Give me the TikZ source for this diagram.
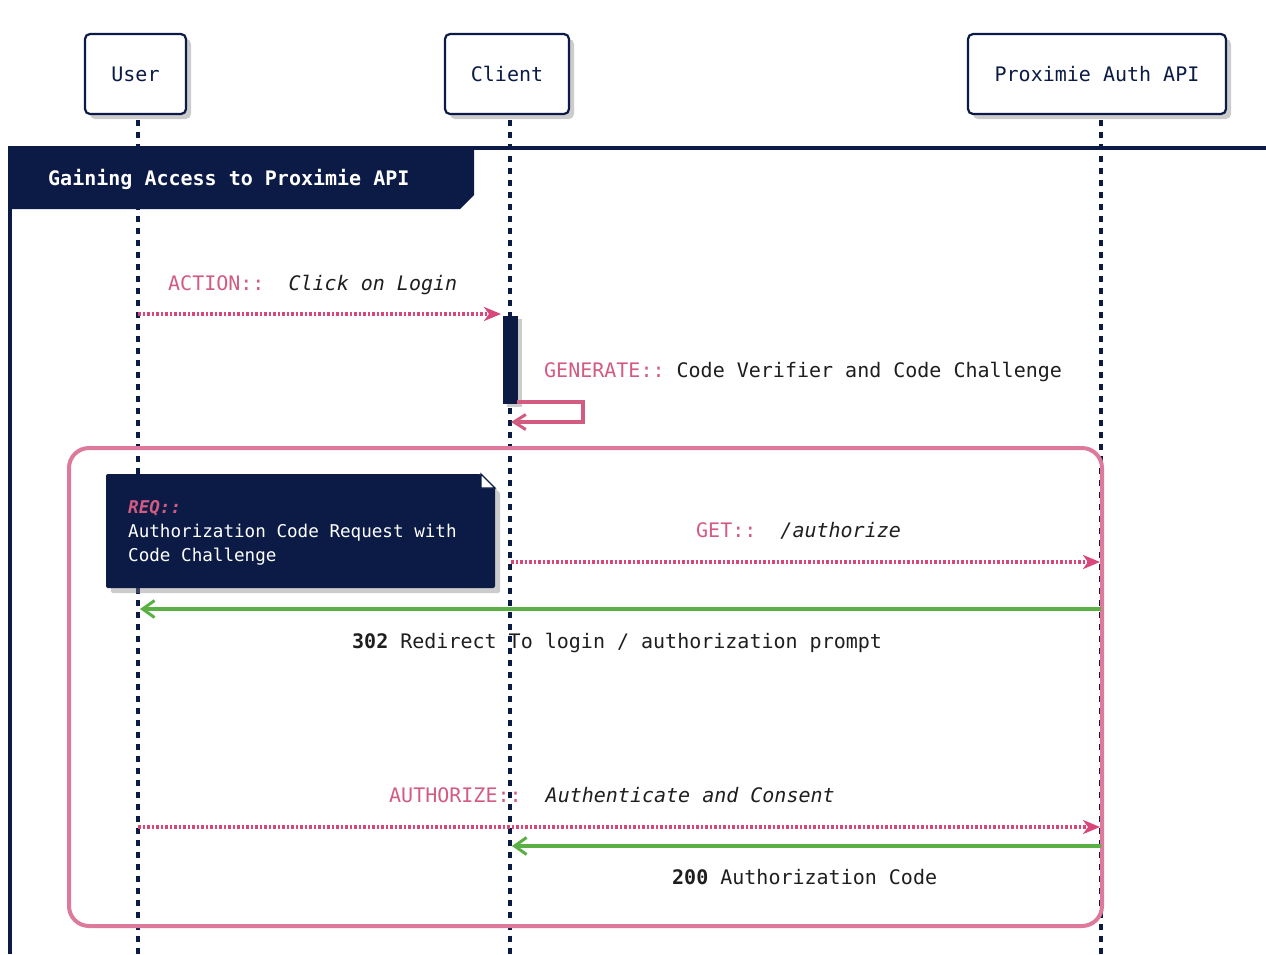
\documentclass[tikz,border=0pt]{standalone}
\usepackage{fontspec}
\setmonofont{DejaVu Sans Mono}
\usetikzlibrary{arrows.meta,shadows,calc}
\definecolor{navy}{HTML}{0B1B45}
\definecolor{pinkt}{HTML}{D35A80}
\definecolor{pinkd}{HTML}{D9467A}
\definecolor{pinkr}{HTML}{DD7A9C}
\definecolor{grn}{HTML}{5AAF45}
\definecolor{txt}{HTML}{1E1E1E}
\tikzset{
  actorbox/.style={draw=navy, line width=2.2pt, rounded corners=5pt, fill=white,
    drop shadow={opacity=0.4, shadow xshift=5pt, shadow yshift=-5pt},
    text=navy, inner sep=0pt},
  lifeline/.style={navy, line width=3.2pt, dash pattern=on 6pt off 6pt},
  reqline/.style={pinkd, line width=3.2pt, dash pattern=on 2.5pt off 2pt,
    -{Stealth[length=17pt,width=14pt,inset=5pt]}},
  respline/.style={grn, line width=3.6pt, -{Straight Barb[length=12pt,width=17pt,line width=3pt]}},
  selfline/.style={pinkt, line width=3.2pt, -{Straight Barb[length=12pt,width=15pt,line width=3pt]}},
  lbl/.style={anchor=base west, inner sep=0pt, text=txt},
}
\begin{document}
\begin{tikzpicture}[x=1pt,y=-1pt, font=\ttfamily\fontsize{20}{24}\selectfont]
\useasboundingbox (0,0) rectangle (1266,954);

% actors
\node[actorbox, minimum width=101pt, minimum height=80pt] (user) at (135.5,74) {User};
\node[actorbox, minimum width=124pt, minimum height=80pt] (client) at (507,74) {Client};
\node[actorbox, minimum width=258pt, minimum height=80pt] (auth) at (1097,74) {Proximie Auth API};

% lifeline ends
\coordinate (userend) at (138,954);
\coordinate (clientend) at (510,954);
\coordinate (authend) at (1101,954);
\draw[lifeline] (138,120) -- (userend);
\draw[lifeline] (510,120) -- (clientend);
\draw[lifeline] (1101,120) -- (authend);

% group frame
\draw[navy, line width=3.5pt] (10,954) -- (10,148) -- (1266,148);
\fill[navy, rounded corners=3pt] (8,209) -- (8,146) -- (474,146) [sharp corners] -- (474,195) -- (460,209) -- cycle;
\node[lbl, text=white, font=\ttfamily\bfseries\fontsize{20}{24}\selectfont] (title) at (48,185) {Gaining Access to Proximie API};

% action
\node[lbl] (action) at (168,290) {\textcolor{pinkt}{ACTION::}~~\textit{Click on Login}};
\node[fill=navy, minimum width=15pt, minimum height=88pt, inner sep=0pt,
  drop shadow={opacity=0.4, shadow xshift=4pt, shadow yshift=-3pt}] (act) at (510,360) {};
\coordinate (a1) at (138,314);
\coordinate (a2) at (501,314);
\draw[reqline] (a1) -- (a2);

% self message
\node[lbl] (generate) at (544,377) {\textcolor{pinkt}{GENERATE::}~Code Verifier and Code Challenge};
\coordinate (s1) at (517,402);
\coordinate (s2) at (511,422);
\draw[selfline] (s1) -- (583,402) -- (583,422) -- (s2);

% loop frame
\draw[pinkr, line width=4pt, rounded corners=20pt] (69,448) rectangle (1102,926);

% note
\fill[navy, rounded corners=2pt, drop shadow={opacity=0.4, shadow xshift=5pt, shadow yshift=-5pt}]
  (106,474) -- (481,474) [sharp corners] -- (495,488) [rounded corners=2pt] -- (495,588) -- (106,588) -- cycle;
\draw[navy, line width=1.2pt, fill=white] (481,474) -- (495,488) -- (481,488) -- cycle;
\node[lbl, text=pinkt, font=\ttfamily\bfseries\itshape\fontsize{17.6}{24}\selectfont] (reqa) at (128,513) {REQ::};
\node[lbl, text=white, font=\ttfamily\fontsize{17.6}{24}\selectfont] (reqb) at (128,537) {Authorization Code Request with};
\node[lbl, text=white, font=\ttfamily\fontsize{17.6}{24}\selectfont] (reqc) at (128,561) {Code Challenge};

% GET
\node[lbl] (get) at (696,537) {\textcolor{pinkt}{GET::}~~\textit{/authorize}};
\coordinate (g1) at (511,562);
\coordinate (g2) at (1100,562);
\draw[reqline] (g1) -- (g2);

% 302
\coordinate (r1) at (1101,609);
\coordinate (r2) at (140,609);
\draw[respline] (r1) -- (r2);
\node[lbl] (redirect) at (352,648) {\textbf{302} Redirect To login / authorization prompt};

% AUTHORIZE
\node[lbl] (authz) at (389,802) {\textcolor{pinkt}{AUTHORIZE::}~~\textit{Authenticate and Consent}};
\coordinate (z1) at (138,827);
\coordinate (z2) at (1100,827);
\draw[reqline] (z1) -- (z2);

% 200
\coordinate (c1) at (1101,846);
\coordinate (c2) at (512,846);
\draw[respline] (c1) -- (c2);
\node[lbl] (code) at (672,884) {\textbf{200} Authorization Code};
\end{tikzpicture}
\end{document}
